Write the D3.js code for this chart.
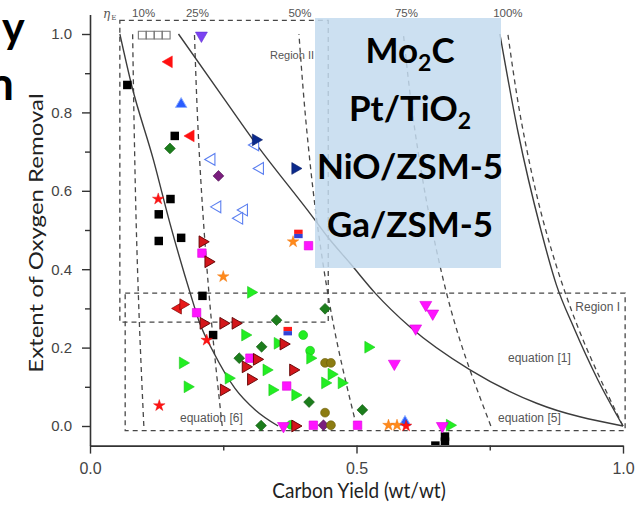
<!DOCTYPE html>
<html>
<head>
<meta charset="utf-8">
<script src="https://cdn.jsdelivr.net/npm/d3@7"></script>
<style>
  html, body { margin: 0; padding: 0; background: #fff; }
  svg { display: block; }
  .tick text { font-family: "Liberation Sans", Arial, sans-serif; fill: #444; }
</style>
</head>
<body>
<svg id="chart" width="635" height="508"></svg>
<script>
// ---------- axes ----------
const xTicks = [0, 0.5, 1.0];
const xMinorTicks = [0.25, 0.75];
const yTicks = [0, 0.2, 0.4, 0.6, 0.8, 1.0];
const yMinorTicks = [0.1, 0.3, 0.5, 0.7, 0.9];

// ---------- energy-efficiency iso-lines (dashed) ----------
const effLabels = ["10%", "25%", "50%", "75%", "100%"];
const effY = [1.0, 0.75, 0.5, 0.25, 0.0];
const eff10X = [0.080, 0.083, 0.087, 0.093, 0.101];
const eff25X = [0.196, 0.203, 0.214, 0.229, 0.248];
const eff50X = [0.392, 0.407, 0.428, 0.458, 0.500];
const eff75X = [0.588, 0.610, 0.642, 0.687, 0.752];
const eff100X = [0.784, 0.813, 0.855, 0.916, 1.000];

// ---------- model curves (solid) ----------
const eq6Points = [[0.056, 1.0], [0.078, 0.87], [0.119, 0.679], [0.150, 0.517], [0.188, 0.339],
                   [0.206, 0.262], [0.231, 0.190], [0.272, 0.096], [0.310, 0.041], [0.353, 0.0]];
const eq5Points = [[0.166, 1.0], [0.253, 0.832], [0.306, 0.730], [0.418, 0.533], [0.446, 0.482],
                   [0.488, 0.415], [0.535, 0.339], [0.600, 0.253], [0.713, 0.143], [0.838, 0.058], [1.0, 0.0]];
const eq1Points = [[0.769, 1.0], [0.803, 0.75], [0.846, 0.5], [0.875, 0.36], [0.908, 0.25],
                   [0.952, 0.12], [1.0, 0.0]];

// ---------- regions (dashed boxes) ----------
const regionII = { x0: 0.056, x1: 0.447, y0: 0.265, y1: 1.035 };
const regionI = { x0: 0.066, x1: 1.004, y0: -0.012, y1: 0.339 };

// ---------- catalyst data points [carbon yield, extent of O removal] ----------
const blackSquares = [[0.070, 0.870], [0.159, 0.740], [0.151, 0.579], [0.129, 0.540], [0.129, 0.472],
                      [0.171, 0.480], [0.211, 0.332], [0.231, 0.232], [0.648, -0.050], [0.666, -0.027], [0.666, -0.040]];
const openGraySquares = [[0.098, 0.997], [0.113, 0.997], [0.128, 0.997], [0.143, 0.997]];
const redLeftTriangles = [[0.148, 0.929], [0.189, 0.740]];
const redStars = [[0.128, 0.579], [0.219, 0.219], [0.130, 0.052], [0.593, 0.0]];
const redBowties = [[0.170, 0.305]];
const darkRedRightTriangles = [[0.211, 0.470], [0.222, 0.419], [0.213, 0.262], [0.250, 0.262], [0.273, 0.262],
                               [0.251, 0.092], [0.363, 0.209], [0.313, 0.170], [0.292, 0.151], [0.381, 0.143],
                               [0.302, 0.119], [0.385, 0.0]];
const limeRightTriangles = [[0.302, 0.341], [0.291, 0.232], [0.352, 0.211], [0.413, 0.173], [0.174, 0.161],
                            [0.331, 0.143], [0.183, 0.100], [0.260, 0.122], [0.342, 0.092], [0.385, 0.079],
                            [0.453, 0.132], [0.441, 0.110], [0.472, 0.110], [0.522, 0.201], [0.675, 0.002]];
const limeCircles = [[0.400, 0.232], [0.413, 0.192], [0.377, 0.003]];
const oliveCircles = [[0.441, 0.161], [0.452, 0.161], [0.441, 0.034], [0.452, 0.002]];
const greenDiamonds = [[0.150, 0.708], [0.350, 0.270], [0.441, 0.299], [0.322, 0.202], [0.280, 0.173],
                       [0.411, 0.061], [0.511, 0.041], [0.321, 0.001]];
const magentaSquares = [[0.210, 0.441], [0.410, 0.460], [0.200, 0.289], [0.300, 0.173], [0.369, 0.102],
                        [0.419, 0.002], [0.502, 0.002]];
const magentaDownTriangles = [[0.630, 0.309], [0.643, 0.287], [0.611, 0.249], [0.571, 0.159], [0.363, 0.0], [0.661, 0.0]];
const purpleDiamonds = [[0.241, 0.638], [0.438, 0.002]];
const orangeStars = [[0.381, 0.470], [0.250, 0.381], [0.560, 0.002], [0.576, 0.002]];
const redBlueSquares = [[0.391, 0.490], [0.371, 0.242]];
const openBlueLeftTriangles = [[0.228, 0.680], [0.310, 0.717], [0.319, 0.657], [0.239, 0.559], [0.289, 0.551], [0.280, 0.530]];
const navyRightTriangles = [[0.311, 0.730], [0.385, 0.657]];
const blueUpTriangles = [[0.171, 0.821], [0.591, 0.010]];
const violetDownTriangles = [[0.209, 0.996]];

// ---------- overlay text ----------
const catalysts = [["Mo", "2", "C"], ["Pt/TiO", "2", ""], ["NiO/ZSM-5", "", ""], ["Ga/ZSM-5", "", ""]];

// ================= drawing =================
const svg = d3.select("#chart");
const x = d3.scaleLinear().domain([0, 1]).range([90, 623]);
const y = d3.scaleLinear().domain([-0.05, 1.05]).range([445.6, 14.4]);

const lineColor = "#474747";
const dash = "5,4";

// clipped plotting layer
svg.append("clipPath").attr("id", "plotClip")
  .append("rect").attr("x", 91).attr("y", 0).attr("width", 544).attr("height", 445);
const plot = svg.append("g").attr("clip-path", "url(#plotClip)");

// region boxes
[regionII, regionI].forEach(r => {
  plot.append("rect")
    .attr("x", x(r.x0)).attr("y", y(r.y1))
    .attr("width", x(r.x1) - x(r.x0)).attr("height", y(r.y0) - y(r.y1))
    .attr("fill", "none").attr("stroke", lineColor).attr("stroke-width", 1.3)
    .attr("stroke-dasharray", dash);
});

// iso-efficiency lines
const isoLine = d3.line().x(d => x(d[0])).y(d => y(d[1])).curve(d3.curveMonotoneY);
const effSets = [eff10X, eff25X, eff50X, eff75X, eff100X];
effSets.forEach(xs => {
  const pts = xs.map((v, i) => [v, effY[i]]).sort((a, b) => a[1] - b[1]);
  plot.append("path").attr("d", isoLine(pts))
    .attr("fill", "none").attr("stroke", lineColor).attr("stroke-width", 1.3)
    .attr("stroke-dasharray", dash);
});

// model curves
const curveLine = d3.line().x(d => x(d[0])).y(d => y(d[1])).curve(d3.curveMonotoneX);
[eq6Points, eq5Points, eq1Points].forEach(pts => {
  plot.append("path").attr("d", curveLine(pts))
    .attr("fill", "none").attr("stroke", "#3c3c3c").attr("stroke-width", 1.4);
});

// small annotations
const annoFont = "'Liberation Sans', Arial, sans-serif";
const anno = (txt, px, py, anchor, fs) => svg.append("text").text(txt)
  .attr("x", px).attr("y", py).attr("text-anchor", anchor || "start")
  .attr("font-family", annoFont).attr("font-size", fs || 12).attr("fill", "#555");
anno("Region II", 270, 59, "start", 11);
anno("Region I", 620, 311, "end");
anno("equation [1]", 508, 362);
anno("equation [5]", 498, 422);
anno("equation [6]", 180, 422);

// efficiency labels on top of the iso-lines
const labelDx = [11, 3, 1, 3, 0];
effSets.forEach((xs, i) => {
  svg.append("text").text(effLabels[i])
    .attr("x", x(xs[0]) + labelDx[i]).attr("y", 17).attr("text-anchor", "middle")
    .attr("font-family", annoFont).attr("font-size", 11.5).attr("fill", "#555");
});
const eta = svg.append("text").attr("x", 103).attr("y", 18)
  .attr("font-family", "'DejaVu Serif', serif").attr("font-size", 12).attr("fill", "#555");
eta.append("tspan").text("η").attr("font-style", "italic");
eta.append("tspan").text("E").attr("font-size", 7).attr("dy", 2).attr("dx", 1);

// ---------- markers ----------
const sym = (type, size) => d3.symbol().type(type).size(size)();
const markerLayer = plot.append("g");
function drawSymbols(data, type, size, rotate, fill, stroke, sw) {
  markerLayer.selectAll(null).data(data).enter().append("path")
    .attr("d", sym(type, size))
    .attr("transform", d => `translate(${x(d[0])},${y(d[1])}) rotate(${rotate})`)
    .attr("fill", fill).attr("stroke", stroke || "none").attr("stroke-width", sw || 0.8);
}
const T = d3.symbolTriangle, S = d3.symbolSquare, C = d3.symbolCircle, ST = d3.symbolStar;

drawSymbols(openGraySquares, S, 60, 0, "#fff", "#777", 1.1);
drawSymbols(greenDiamonds, S, 58, 45, "#1c7d1c", "#0f5a0f", 0.6);
drawSymbols(purpleDiamonds, S, 58, 45, "#7a1e7e", "#4a0f4e", 0.6);
drawSymbols(oliveCircles, C, 62, 0, "#8c7c12", "#6a5c08", 0.6);
drawSymbols(limeCircles, C, 62, 0, "#22ee22", "#18c018", 0.6);
drawSymbols(magentaSquares, S, 72, 0, "#ff14ff", "#dd00dd", 0.6);
drawSymbols(blackSquares, S, 72, 0, "#000", "none");
drawSymbols(openBlueLeftTriangles, T, 60, -90, "#fff", "#5b7ff0", 1.1);
drawSymbols(limeRightTriangles, T, 60, 90, "#22ee22", "#19c719", 0.6);
drawSymbols(darkRedRightTriangles, T, 60, 90, "#d3161a", "#5e0000", 0.9);
drawSymbols(redLeftTriangles, T, 60, -90, "#ff1010", "#ff1010", 0.5);
drawSymbols(magentaDownTriangles, T, 62, 180, "#ff14ff", "#dd00dd", 0.6);
drawSymbols(navyRightTriangles, T, 60, 90, "#0b2a8c", "#071d66", 0.6);
drawSymbols(blueUpTriangles, T, 56, 0, "#2a5cff", "#8fb0ff", 1);
drawSymbols(violetDownTriangles, T, 62, 180, "#7c42f2", "#6030d0", 0.6);
drawSymbols(orangeStars, ST, 42, 0, "#ff8a1c", "#f07000", 0.4);
drawSymbols(redStars, ST, 42, 0, "#ff1414", "#e00000", 0.4);

// bow-tie markers: two opposite triangles
redBowties.forEach(d => {
  [[-90, -2.5, 2], [90, 2.5, -2]].forEach(([rot, dx, dy]) => {
    markerLayer.append("path").attr("d", sym(T, 55))
      .attr("transform", `translate(${x(d[0]) + dx},${y(d[1]) + dy}) rotate(${rot})`)
      .attr("fill", "#e81818").attr("stroke", "#7a0000").attr("stroke-width", 0.7);
  });
});

// split squares: red upper half, blue lower half
redBlueSquares.forEach(d => {
  const cx = x(d[0]), cy = y(d[1]), s = 8.5;
  markerLayer.append("rect").attr("x", cx - s / 2).attr("y", cy - s / 2).attr("width", s).attr("height", s / 2)
    .attr("fill", "#ff1a1a");
  markerLayer.append("rect").attr("x", cx - s / 2).attr("y", cy).attr("width", s).attr("height", s / 2)
    .attr("fill", "#3242d6");
});

// ---------- axes ----------
const axisColor = "#333";
const xAxis = svg.append("g").attr("transform", "translate(0,445.6)")
  .call(d3.axisBottom(x).tickValues(xTicks).tickFormat(d3.format(".1f")).tickSize(8).tickPadding(9).tickSizeOuter(0));
svg.append("g").attr("transform", "translate(0,445.6)")
  .call(d3.axisBottom(x).tickValues(xMinorTicks).tickFormat("").tickSize(5).tickSizeOuter(0))
  .select(".domain").remove();
const yAxis = svg.append("g").attr("transform", "translate(90,0)")
  .call(d3.axisLeft(y).tickValues(yTicks).tickFormat(d3.format(".1f")).tickSize(8).tickPadding(10).tickSizeOuter(0));
svg.append("g").attr("transform", "translate(90,0)")
  .call(d3.axisLeft(y).tickValues(yMinorTicks).tickFormat("").tickSize(5).tickSizeOuter(0))
  .select(".domain").remove();
svg.selectAll(".domain").attr("stroke", axisColor).attr("stroke-width", 1.6);
svg.selectAll(".tick line").attr("stroke", axisColor).attr("stroke-width", 1.4);
xAxis.selectAll(".tick text").attr("font-size", 16);
yAxis.selectAll(".tick text").attr("font-size", 15);

// axis titles
const titleFont = "Lato, 'Open Sans', sans-serif";
svg.append("text").text("Carbon Yield (wt/wt)")
  .attr("transform", "translate(359,498) scale(1,1.15)")
  .attr("text-anchor", "middle").attr("font-family", titleFont).attr("font-size", 19).attr("fill", "#222");
svg.append("text").text("Extent of Oxygen Removal")
  .attr("transform", "translate(43,233) rotate(-90) scale(1.2,1)")
  .attr("text-anchor", "middle").attr("font-family", titleFont).attr("font-size", 20).attr("fill", "#222");

// ---------- highlighted catalyst box ----------
svg.append("rect").attr("x", 315).attr("y", 18).attr("width", 186).attr("height", 250)
  .attr("fill", "#c3daee").attr("fill-opacity", 0.85);
catalysts.forEach((c, i) => {
  const t = svg.append("text").attr("x", 410).attr("y", 63 + i * 58).attr("text-anchor", "middle")
    .attr("font-family", "Lato, 'Open Sans', sans-serif").attr("font-weight", "bold")
    .attr("font-size", 35).attr("fill", "#000");
  t.append("tspan").text(c[0]);
  if (c[1]) t.append("tspan").text(c[1]).attr("font-size", 23).attr("dy", 8);
  if (c[2]) t.append("tspan").text(c[2]).attr("dy", -8);
});

// ---------- partial slide text at the left edge ----------
svg.append("text").text("y").attr("x", 2).attr("y", 43)
  .attr("font-family", "Lato, sans-serif").attr("font-weight", "bold").attr("font-size", 43).attr("fill", "#000");
svg.append("text").text("n").attr("x", -12).attr("y", 100)
  .attr("font-family", "Lato, sans-serif").attr("font-weight", "bold").attr("font-size", 46).attr("fill", "#000");
</script>
</body>
</html>
